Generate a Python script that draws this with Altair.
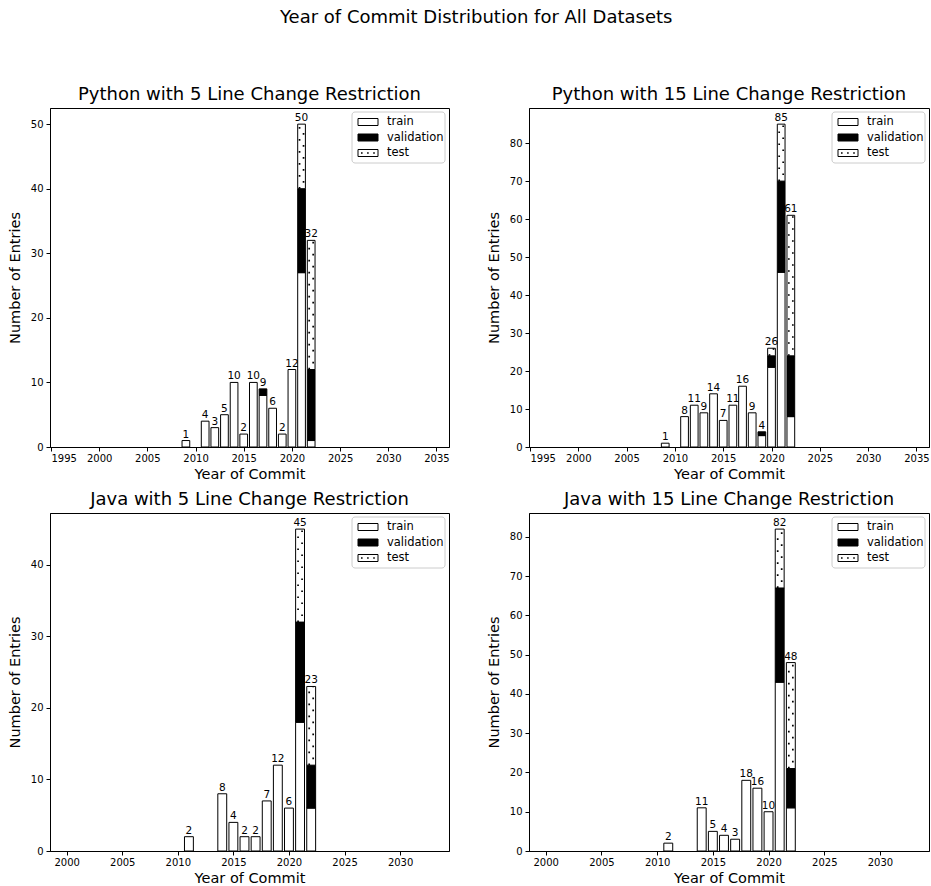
import altair as alt
import pandas as pd

FONT = "DejaVu Sans"

# ---- data ----
py5_years = [2009, 2011, 2012, 2013, 2014, 2015, 2016, 2017, 2018, 2019, 2020, 2021, 2022]
py5_train = [1, 4, 3, 5, 10, 2, 10, 8, 6, 2, 12, 27, 1]
py5_val = [0, 0, 0, 0, 0, 0, 0, 1, 0, 0, 0, 13, 11]
py5_test = [0, 0, 0, 0, 0, 0, 0, 0, 0, 0, 0, 10, 20]

py15_years = [2009, 2011, 2012, 2013, 2014, 2015, 2016, 2017, 2018, 2019, 2020, 2021, 2022]
py15_train = [1, 8, 11, 9, 14, 7, 11, 16, 9, 3, 21, 46, 8]
py15_val = [0, 0, 0, 0, 0, 0, 0, 0, 0, 1, 3, 24, 16]
py15_test = [0, 0, 0, 0, 0, 0, 0, 0, 0, 0, 2, 15, 37]

java5_years = [2011, 2014, 2015, 2016, 2017, 2018, 2019, 2020, 2021, 2022]
java5_train = [2, 8, 4, 2, 2, 7, 12, 6, 18, 6]
java5_val = [0, 0, 0, 0, 0, 0, 0, 0, 14, 6]
java5_test = [0, 0, 0, 0, 0, 0, 0, 0, 13, 11]

java15_years = [2011, 2014, 2015, 2016, 2017, 2018, 2019, 2020, 2021, 2022]
java15_train = [2, 11, 5, 4, 3, 18, 16, 10, 43, 11]
java15_val = [0, 0, 0, 0, 0, 0, 0, 0, 24, 10]
java15_test = [0, 0, 0, 0, 0, 0, 0, 0, 15, 27]

segments = ["train", "validation", "test"]
py_ticks = [1995, 2000, 2005, 2010, 2015, 2020, 2025, 2030, 2035]
java_ticks = [2000, 2005, 2010, 2015, 2020, 2025, 2030]
HALF = 0.4


def build_frames(years, train, val, test):
    rows, tots = [], []
    for y, a, b, c in zip(years, train, val, test):
        lo = 0
        for seg, v in zip(segments, [a, b, c]):
            if v > 0:
                rows.append({"year": y, "x1": y - HALF, "x2": y + HALF,
                             "lo": lo, "hi": lo + v, "seg": seg})
            lo += v
        tots.append({"year": y, "total": a + b + c})
    return pd.DataFrame(rows), pd.DataFrame(tots)


def one():
    return alt.Data(values=[{"k": 1}])


def legend_layers(W):
    layers = []
    layers.append(alt.Chart(one()).mark_rect(fill="white", stroke="#cccccc", strokeWidth=1,
                                             cornerRadius=3).encode(
        x=alt.value(W - 97), x2=alt.value(W - 4), y=alt.value(4), y2=alt.value(55)))
    centers = [14, 29.5, 45]
    fills = ["white", "black", "white"]
    for lab, c, f in zip(segments, centers, fills):
        layers.append(alt.Chart(one()).mark_rect(fill=f, stroke="black", strokeWidth=1).encode(
            x=alt.value(W - 91), x2=alt.value(W - 71), y=alt.value(c - 3.5), y2=alt.value(c + 3.5)))
        if lab == "test":
            layers.append(alt.Chart(one()).mark_rule(color="black", strokeWidth=1.6,
                                                     strokeDash=[1.6, 4.5], strokeCap="butt").encode(
                x=alt.value(W - 88), x2=alt.value(W - 73), y=alt.value(c)))
        layers.append(alt.Chart(one()).mark_text(align="left", baseline="middle", fontSize=11.5,
                                                 font=FONT, color="black").encode(
            x=alt.value(W - 62), y=alt.value(c), text=alt.value(lab)))
    return layers


def panel(title, years, train, val, test, xdom, xticks, ymax, yticks, W, H):
    df, tot = build_frames(years, train, val, test)
    xs = alt.Scale(domain=xdom, nice=False, zero=False)
    ys = alt.Scale(domain=[0, ymax], nice=False)
    xax = alt.Axis(values=xticks, format="d", title="Year of Commit")
    yax = alt.Axis(values=yticks, title="Number of Entries")
    base = alt.Chart(df)
    bars = base.mark_rect(stroke="black", strokeWidth=1).encode(
        x=alt.X("x1:Q", scale=xs, axis=xax),
        x2="x2:Q",
        y=alt.Y("lo:Q", scale=ys, axis=yax),
        y2="hi:Q",
        fill=alt.Fill("seg:N", scale=alt.Scale(domain=segments, range=["white", "black", "white"]),
                      legend=None),
    )
    testonly = base.transform_filter(alt.datum.seg == "test")
    h1 = testonly.mark_rule(color="black", strokeWidth=1.7, strokeDash=[1.7, 10.3],
                            strokeCap="butt", xOffset=-2).encode(
        x="year:Q", y="lo:Q", y2="hi:Q")
    h2 = testonly.mark_rule(color="black", strokeWidth=1.7, strokeDash=[1.7, 10.3],
                            strokeDashOffset=6, strokeCap="butt", xOffset=2).encode(
        x="year:Q", y="lo:Q", y2="hi:Q")
    txt = alt.Chart(tot).mark_text(baseline="bottom", dy=-1, fontSize=10.5, font=FONT,
                                   color="black").encode(
        x="year:Q", y="total:Q", text="total:Q")
    return alt.layer(bars, h1, h2, txt, *legend_layers(W)).properties(
        width=W, height=H, title=alt.TitleParams(title, fontSize=18, fontWeight="normal",
                                                 font=FONT, offset=4))


p1 = panel("Python with 5 Line Change Restriction", py5_years, py5_train, py5_val, py5_test,
           [1994.9, 2036.3], py_ticks, 52.5, [0, 10, 20, 30, 40, 50], 399, 339)
p2 = panel("Python with 15 Line Change Restriction", py15_years, py15_train, py15_val, py15_test,
           [1994.9, 2036.3], py_ticks, 89.25, [0, 10, 20, 30, 40, 50, 60, 70, 80], 400, 339)
p3 = panel("Java with 5 Line Change Restriction", java5_years, java5_train, java5_val, java5_test,
           [1998.5, 2034.4], java_ticks, 47.25, [0, 10, 20, 30, 40], 399, 338)
p4 = panel("Java with 15 Line Change Restriction", java15_years, java15_train, java15_val, java15_test,
           [1998.5, 2034.4], java_ticks, 86.1, [0, 10, 20, 30, 40, 50, 60, 70, 80], 400, 338)

row1 = alt.hconcat(p1, p2, spacing=35)
row2 = alt.hconcat(p3, p4, spacing=35)
chart = alt.vconcat(row1, row2, spacing=9).properties(
    title=alt.TitleParams("Year of Commit Distribution for All Datasets", fontSize=18,
                          fontWeight="normal", font=FONT, anchor="middle", offset=59, dx=8),
    padding={"left": 6, "top": 8, "right": 0, "bottom": 0},
).configure_view(stroke="black", strokeWidth=1).configure_axis(
    grid=False, domainColor="black", tickColor="black", labelColor="black", titleColor="black",
    labelFont=FONT, titleFont=FONT, labelFontSize=10, titleFontSize=14.5, titleFontWeight="normal",
    tickSize=4,
).configure_axisX(labelPadding=2, titlePadding=4).configure_axisY(
    labelPadding=3, titlePadding=8).configure_title(color="black")

chart.save("out.html", embed_options={"renderer": "svg", "actions": False})
